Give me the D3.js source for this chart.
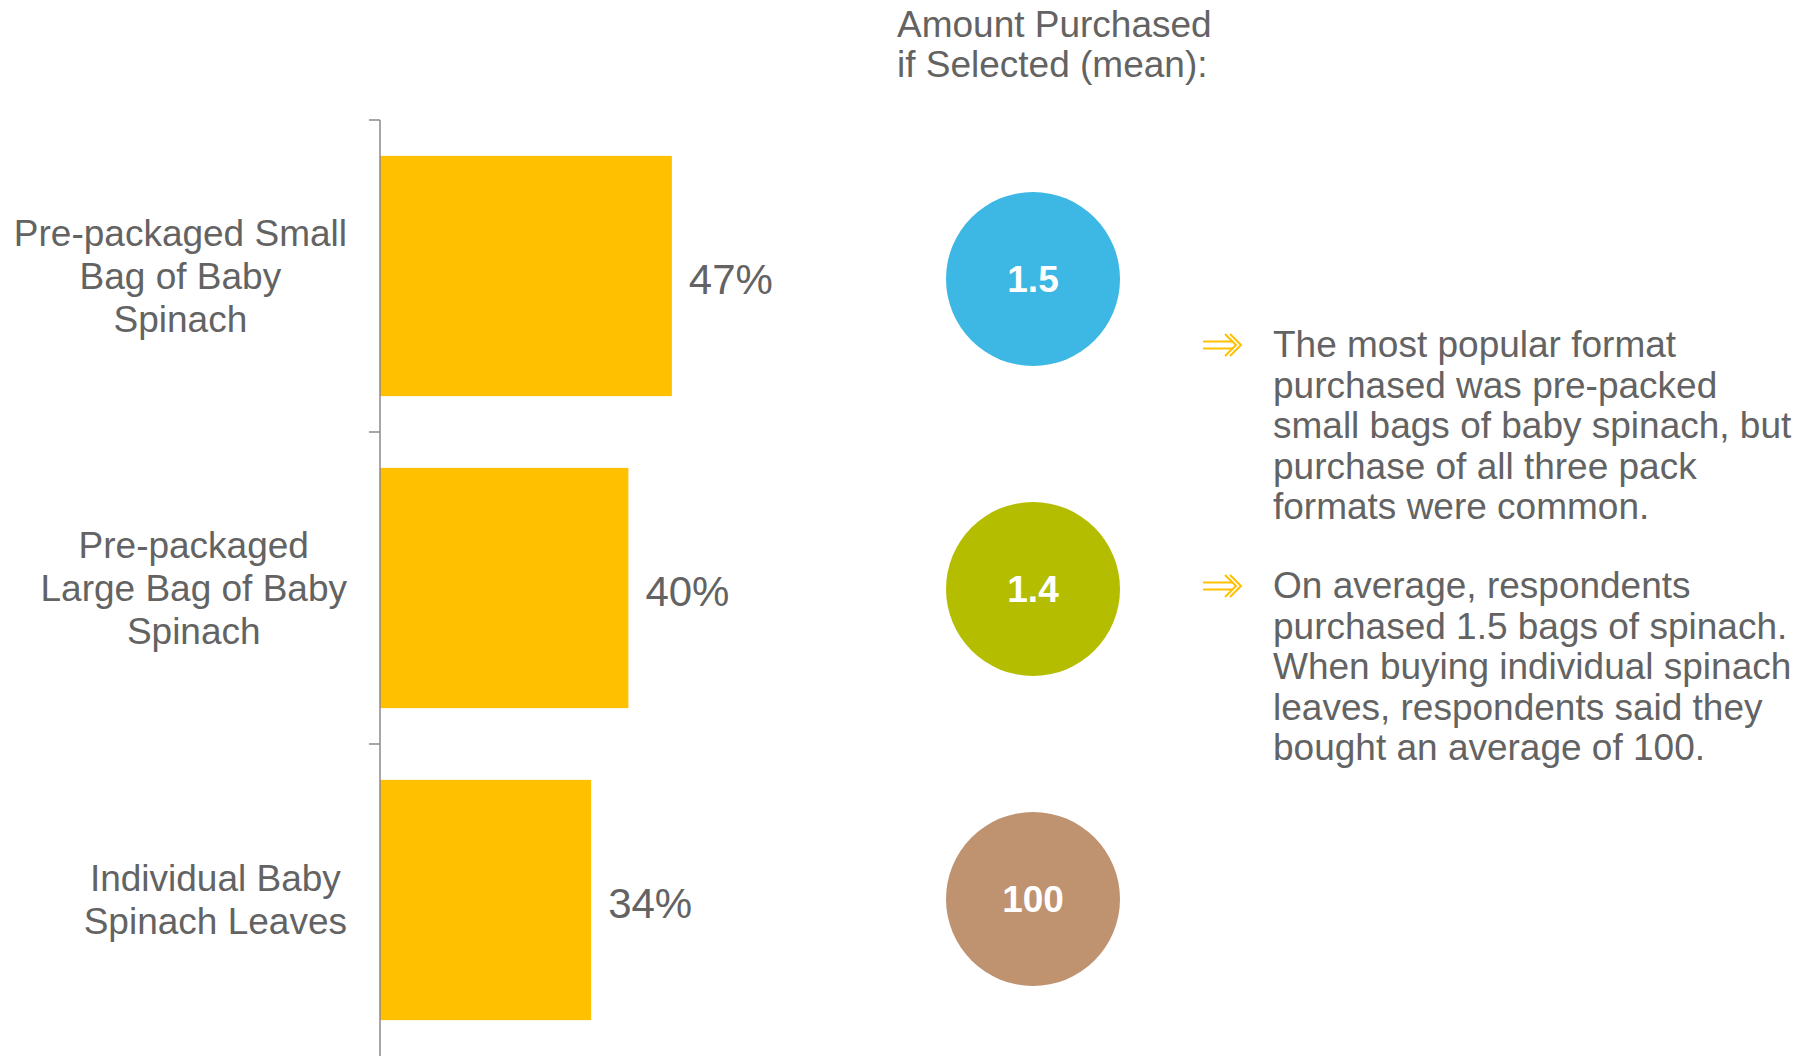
<!DOCTYPE html>
<html>
<head>
<meta charset="utf-8">
<script src="https://cdn.jsdelivr.net/npm/d3@7"></script>
<style>
  html, body { margin: 0; padding: 0; background: #fff; }
  svg { display: block; font-family: "Liberation Sans", Arial, sans-serif; }
</style>
</head>
<body>
<svg id="chart" width="1810" height="1056"></svg>
<script>
// Purchase format shares and mean amount bought
const categories = ["Small Bag", "Large Bag", "Individual Leaves"];
const categoryLines = [
  ["Pre-packaged Small", "Bag of Baby", "Spinach"],
  ["Pre-packaged", "Large Bag of Baby", "Spinach"],
  ["Individual Baby", "Spinach Leaves"]
];
const sharePct = [47, 40, 34];
const meanAmount = [1.5, 1.4, 100];
const circleColors = ["#3DB7E4", "#B5BD00", "#BF9270"];
const headerLines = ["Amount Purchased", "if Selected (mean):"];
const notes = [
  ["The most popular format", "purchased was pre-packed", "small bags of baby spinach, but", "purchase of all three pack", "formats were common."],
  ["On average, respondents", "purchased 1.5 bags of spinach.", "When buying individual spinach", "leaves, respondents said they", "bought an average of 100."]
];

const textColor = "#636363";
const barColor = "#FFC000";
const svg = d3.select("#chart");

const y = d3.scaleBand()
  .domain(categories)
  .range([120, 1056])
  .paddingInner(0.23)
  .paddingOuter(0.115);

const x = d3.scaleLinear().domain([0, 50]).range([380, 690.5]);

// Bars
svg.append("g").selectAll("rect")
  .data(categories)
  .join("rect")
  .attr("x", x(0))
  .attr("y", d => y(d))
  .attr("width", (d, i) => x(sharePct[i]) - x(0))
  .attr("height", y.bandwidth())
  .attr("fill", barColor);

// Category axis: vertical rule with ticks at band boundaries
const axis = svg.append("g").attr("stroke", "#8a8a8a").attr("stroke-width", 1.5);
axis.append("line")
  .attr("x1", x(0)).attr("x2", x(0))
  .attr("y1", y.range()[0]).attr("y2", y.range()[1]);
axis.selectAll("line.tick")
  .data(d3.range(categories.length))
  .join("line")
  .attr("class", "tick")
  .attr("x1", x(0) - 11).attr("x2", x(0))
  .attr("y1", i => y.range()[0] + i * y.step())
  .attr("y2", i => y.range()[0] + i * y.step());

// Category labels: centred lines, block right-aligned next to the axis
const labelRight = 347;
const lineH = 43;
categories.forEach((c, i) => {
  const lines = categoryLines[i];
  const cy = y(c) + y.bandwidth() / 2;
  const t = svg.append("text")
    .attr("font-size", 37)
    .attr("fill", textColor)
    .attr("text-anchor", "middle");
  lines.forEach((ln, j) => {
    t.append("tspan")
      .attr("x", 0)
      .attr("y", cy + (j - (lines.length - 1) / 2) * lineH)
      .attr("dy", "0.35em")
      .text(ln);
  });
  const w = d3.max(t.selectAll("tspan").nodes(), n => n.getComputedTextLength());
  t.attr("transform", `translate(${labelRight - w / 2},0)`);
});

// Value labels
svg.append("g").selectAll("text")
  .data(categories)
  .join("text")
  .attr("x", (d, i) => x(sharePct[i]) + 17)
  .attr("y", d => y(d) + y.bandwidth() / 2 + 3)
  .attr("dy", "0.35em")
  .attr("font-size", 42)
  .attr("fill", textColor)
  .text((d, i) => sharePct[i] + "%");

// Header for the amount column
const header = svg.append("text")
  .attr("font-size", 37)
  .attr("fill", textColor);
headerLines.forEach((ln, j) => {
  header.append("tspan").attr("x", 897).attr("y", 37 + j * 40).text(ln);
});

// Mean amount circles
const cy = d3.scalePoint().domain(categories).range([279, 899]);
const cx = 1033;
const circles = svg.append("g");
circles.selectAll("circle")
  .data(categories)
  .join("circle")
  .attr("cx", cx)
  .attr("cy", d => cy(d))
  .attr("r", 87)
  .attr("fill", (d, i) => circleColors[i]);
circles.selectAll("text")
  .data(categories)
  .join("text")
  .attr("x", cx)
  .attr("y", d => cy(d))
  .attr("dy", "0.35em")
  .attr("text-anchor", "middle")
  .attr("font-size", 37)
  .attr("font-weight", "bold")
  .attr("fill", "#fff")
  .text((d, i) => d3.format("")(meanAmount[i]));

// Commentary with arrow bullets
const noteTop = [357, 598];
const noteLineH = 40.5;
notes.forEach((para, k) => {
  const base = noteTop[k];
  const ay = base - 12;
  const b = svg.append("g")
    .attr("fill", "none")
    .attr("stroke", barColor)
    .attr("stroke-width", 2);
  b.append("line").attr("x1", 1203).attr("x2", 1233).attr("y1", ay - 3.5).attr("y2", ay - 3.5);
  b.append("line").attr("x1", 1203).attr("x2", 1233).attr("y1", ay + 3.5).attr("y2", ay + 3.5);
  b.append("path").attr("d", `M1225,${ay - 11} L1236,${ay} L1225,${ay + 11}`);
  b.append("path").attr("d", `M1230,${ay - 11} L1241,${ay} L1230,${ay + 11}`);

  const t = svg.append("text")
    .attr("font-size", 37)
    .attr("fill", textColor);
  para.forEach((ln, j) => {
    t.append("tspan").attr("x", 1273).attr("y", base + j * noteLineH).text(ln);
  });
});
</script>
</body>
</html>
